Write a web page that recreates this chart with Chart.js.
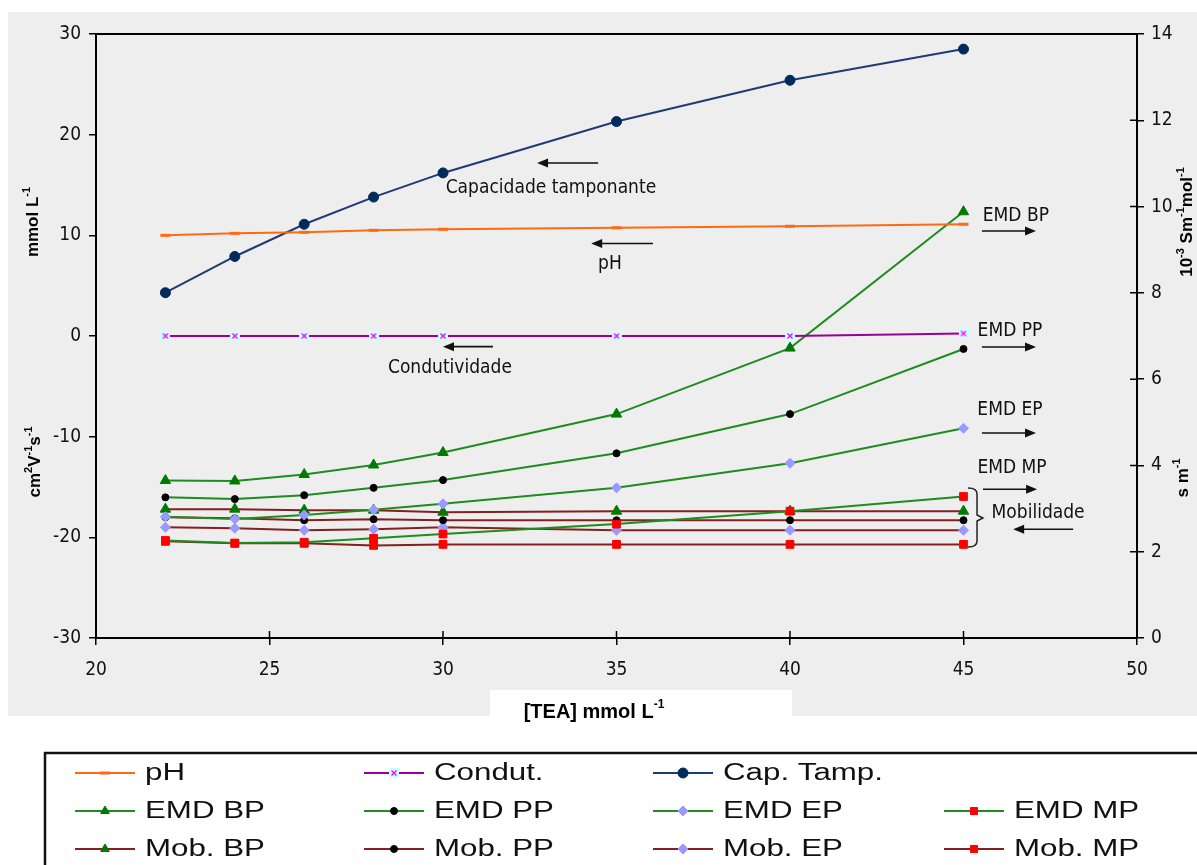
<!DOCTYPE html>
<html>
<head>
<meta charset="utf-8">
<script src="https://cdn.jsdelivr.net/npm/chart.js@4.4.0/dist/chart.umd.min.js"></script>
<style>
  body { margin: 0; background: #fff; }
  #wrap { width: 1197px; height: 865px; }
</style>
</head>
<body>
<div id="wrap"><canvas id="chart" width="1197" height="865"></canvas></div>
<script>
//------------------------------------------------------
// DATA
//------------------------------------------------------
const tea = [22, 24, 26, 28, 30, 35, 40, 45];

// left axis (mmol L-1 / cm2V-1s-1)
const pH      = [10.0, 10.2, 10.3, 10.5, 10.6, 10.75, 10.9, 11.1];
const condut  = [0, 0, 0, 0, 0, 0, 0, 0.25];
const capTamp = [4.3, 7.9, 11.1, 13.8, 16.2, 21.3, 25.4, 28.5];
const mobBP   = [-17.2, -17.2, -17.3, -17.3, -17.5, -17.4, -17.4, -17.4];
const mobPP   = [-18.0, -18.1, -18.3, -18.2, -18.3, -18.3, -18.3, -18.3];
const mobEP   = [-19.0, -19.1, -19.3, -19.2, -19.0, -19.3, -19.3, -19.3];
const mobMP   = [-20.4, -20.6, -20.6, -20.8, -20.7, -20.7, -20.7, -20.7];

// right axis (s m-1)
const emdBP = [3.65, 3.64, 3.79, 4.01, 4.30, 5.19, 6.72, 9.88];
const emdPP = [3.26, 3.22, 3.31, 3.48, 3.66, 4.28, 5.19, 6.70];
const emdEP = [2.81, 2.76, 2.85, 2.97, 3.11, 3.48, 4.05, 4.86];
const emdMP = [2.26, 2.20, 2.22, 2.31, 2.41, 2.64, 2.94, 3.28];

const xTicks = { min: 20, max: 50, step: 5 };
const yTicks = { min: -30, max: 30, step: 10 };
const y2Ticks = { min: 0, max: 14, step: 2 };

const NARROW = "'Liberation Sans Narrow', 'Arial Narrow', 'DejaVu Sans Condensed', sans-serif";
const SANS = "'Liberation Sans', Arial, sans-serif";

const GREEN = '#1E8C1E';
const MOB = '#842020';

// condutividade marker: magenta x on light cyan square
const condMark = document.createElement('canvas');
condMark.width = 10; condMark.height = 10;
(function () {
  const c = condMark.getContext('2d');
  c.fillStyle = '#CCFFFF'; c.fillRect(0, 0, 10, 10);
  c.strokeStyle = '#FF00FF'; c.lineWidth = 1.4;
  c.beginPath(); c.moveTo(2.5, 2.5); c.lineTo(7.5, 7.5); c.moveTo(7.5, 2.5); c.lineTo(2.5, 7.5); c.stroke();
})();

function makeSet(label, values, axis, line, style, mark, r, bw) {
  return {
    label: label,
    data: tea.map((x, i) => ({ x: x, y: values[i] })),
    yAxisID: axis,
    borderColor: line,
    borderWidth: 2,
    pointStyle: style,
    pointRadius: r,
    pointBackgroundColor: mark,
    pointBorderColor: mark,
    pointBorderWidth: bw || 1,
    fill: false,
    tension: 0
  };
}

const dsPH   = makeSet('pH', pH, 'y', '#FF6A10', 'line', '#FF6A10', 5, 3);
const dsCond = makeSet('Condut.', condut, 'y', '#990099', condMark, '#FF00FF', 5);
const dsCap  = makeSet('Cap. Tamp.', capTamp, 'y', '#1F3B73', 'circle', '#002A5C', 5);
const dsEBP  = makeSet('EMD BP', emdBP, 'y2', GREEN, 'triangle', '#007A00', 6);
const dsEPP  = makeSet('EMD PP', emdPP, 'y2', GREEN, 'circle', '#000000', 3.5);
const dsEEP  = makeSet('EMD EP', emdEP, 'y2', GREEN, 'rectRot', '#9999FF', 5);
const dsEMP  = makeSet('EMD MP', emdMP, 'y2', GREEN, 'rect', '#FF0000', 5.5);
const dsMBP  = makeSet('Mob. BP', mobBP, 'y', MOB, 'triangle', '#007A00', 6);
const dsMPP  = makeSet('Mob. PP', mobPP, 'y', MOB, 'circle', '#000000', 3.5);
const dsMEP  = makeSet('Mob. EP', mobEP, 'y', MOB, 'rectRot', '#9999FF', 5);
const dsMMP  = makeSet('Mob. MP', mobMP, 'y', MOB, 'rect', '#FF0000', 5.5);

const legendRows = [
  [dsPH, dsCond, dsCap, null],
  [dsEBP, dsEPP, dsEEP, dsEMP],
  [dsMBP, dsMPP, dsMEP, dsMMP]
];

// annotations in data units (x: TEA, y: left axis)
const notes = [
  { text: 'Capacidade tamponante', x: 33.11, y: 14.70, ax: [34.47, 32.71, 17.19] },
  { text: 'pH', x: 34.81, y: 7.15, ax: [36.05, 34.27, 9.19] },
  { text: 'Condutividade', x: 30.20, y: -3.18, ax: [31.44, 30.0, -1.06] },
  { text: 'EMD BP', x: 46.51, y: 11.92, ax: [45.53, 47.09, 10.43] },
  { text: 'EMD PP', x: 46.34, y: 0.50, ax: [45.53, 47.09, -1.09] },
  { text: 'EMD EP', x: 46.34, y: -7.35, ax: [45.53, 47.09, -9.64] },
  { text: 'EMD MP', x: 46.40, y: -13.11, ax: [45.56, 47.12, -15.23] },
  { text: 'Mobilidade', x: 47.15, y: -17.58, ax: [48.16, 46.43, -19.2] }
];
const brace = { x0: 45.13, x1: 45.39, tip: 45.56, top: -15.1, mid: -18.08, bot: -20.96 };

//------------------------------------------------------
// HELPERS
//------------------------------------------------------
function richText(ctx, parts, cx, cy, rot, size, family, bold) {
  ctx.save();
  ctx.translate(cx, cy);
  ctx.rotate(rot);
  const w8 = bold ? 'bold ' : '';
  const base = w8 + size + 'px ' + family;
  const sup = w8 + Math.round(size * 0.62) + 'px ' + family;
  let w = 0;
  parts.forEach(p => { ctx.font = p[1] ? sup : base; w += ctx.measureText(p[0]).width; });
  let x = -w / 2;
  ctx.textBaseline = 'middle';
  ctx.textAlign = 'left';
  ctx.fillStyle = '#000';
  parts.forEach(p => {
    ctx.font = p[1] ? sup : base;
    ctx.fillText(p[0], x, p[1] ? -size * 0.38 : 0);
    x += ctx.measureText(p[0]).width;
  });
  ctx.restore();
}

function arrow(ctx, x1, x2, y) {
  const dir = x2 > x1 ? 1 : -1;
  ctx.save();
  ctx.strokeStyle = '#111';
  ctx.fillStyle = '#111';
  ctx.lineWidth = 1.6;
  ctx.beginPath();
  ctx.moveTo(x1, y);
  ctx.lineTo(x2 - dir * 8, y);
  ctx.stroke();
  ctx.beginPath();
  ctx.moveTo(x2, y);
  ctx.lineTo(x2 - dir * 11, y - 4.5);
  ctx.lineTo(x2 - dir * 11, y + 4.5);
  ctx.closePath();
  ctx.fill();
  ctx.restore();
}

//------------------------------------------------------
// PLUGIN: background, frame, notes, titles, legend
//------------------------------------------------------
const decor = {
  id: 'decor',
  beforeDraw(chart) {
    const ctx = chart.ctx;
    ctx.save();
    ctx.fillStyle = '#fff';
    ctx.fillRect(0, 0, chart.width, chart.height);
    ctx.fillStyle = '#EEEEEE';
    ctx.fillRect(8, 12, chart.width - 8, 704);
    ctx.fillStyle = '#fff';
    ctx.fillRect(490, 690, 302, 30);
    ctx.restore();
  },
  afterDraw(chart) {
    const ctx = chart.ctx;
    const a = chart.chartArea;
    const sx = chart.scales.x, sy = chart.scales.y, sy2 = chart.scales.y2;
    ctx.save();

    // top frame line
    ctx.strokeStyle = '#000';
    ctx.lineWidth = 2;
    ctx.beginPath();
    ctx.moveTo(a.left, a.top);
    ctx.lineTo(a.right, a.top);
    ctx.stroke();

    // inner halves of crossing ticks
    ctx.lineWidth = 1.5;
    ctx.beginPath();
    sx.ticks.forEach(t => {
      const px = sx.getPixelForValue(t.value);
      ctx.moveTo(px, a.bottom); ctx.lineTo(px, a.bottom - 7);
    });
    sy2.ticks.forEach(t => {
      const py = sy2.getPixelForValue(t.value);
      ctx.moveTo(a.right, py); ctx.lineTo(a.right - 7, py);
    });
    ctx.stroke();

    // notes
    ctx.fillStyle = '#111';
    ctx.font = '19px ' + NARROW;
    ctx.textAlign = 'center';
    ctx.textBaseline = 'middle';
    notes.forEach(n => {
      ctx.fillText(n.text, sx.getPixelForValue(n.x), sy.getPixelForValue(n.y));
      arrow(ctx, sx.getPixelForValue(n.ax[0]), sx.getPixelForValue(n.ax[1]), sy.getPixelForValue(n.ax[2]));
    });

    // brace for mobility
    const bx0 = sx.getPixelForValue(brace.x0), bx1 = sx.getPixelForValue(brace.x1);
    const bt = sx.getPixelForValue(brace.tip);
    const by0 = sy.getPixelForValue(brace.top), bym = sy.getPixelForValue(brace.mid);
    const by1 = sy.getPixelForValue(brace.bot);
    ctx.strokeStyle = '#222';
    ctx.lineWidth = 1.5;
    ctx.beginPath();
    ctx.moveTo(bx0, by0);
    ctx.quadraticCurveTo(bx1, by0, bx1, by0 + 6);
    ctx.lineTo(bx1, bym - 3);
    ctx.lineTo(bt, bym);
    ctx.lineTo(bx1, bym + 3);
    ctx.lineTo(bx1, by1 - 6);
    ctx.quadraticCurveTo(bx1, by1, bx0, by1);
    ctx.stroke();

    // axis titles
    const up = -Math.PI / 2;
    richText(ctx, [['mmol L'], ['-1', 1]], 33, 222, up, 17, SANS, true);
    richText(ctx, [['cm'], ['2', 1], ['V'], ['-1', 1], ['s'], ['-1', 1]], 35, 462, up, 17, SANS, true);
    richText(ctx, [['10'], ['-3', 1], [' Sm'], ['-1', 1], ['mol'], ['-1', 1]], 1187, 222, up, 17, SANS, true);
    richText(ctx, [['s m'], ['-1', 1]], 1183, 478, up, 17, SANS, true);
    richText(ctx, [['[TEA] mmol L'], ['-1', 1]], 594, 712, 0, 20, SANS, true);

    // legend box
    ctx.fillStyle = '#fff';
    ctx.fillRect(45, 753, 1160, 130);
    ctx.strokeStyle = '#111';
    ctx.lineWidth = 2.5;
    ctx.strokeRect(45, 753, 1160, 130);

    const rowY = [773, 811, 849];
    const colX = [75, 364, 653, 944];
    legendRows.forEach((row, ri) => {
      row.forEach((ds, ci) => {
        if (!ds) return;
        const x0 = colX[ci], y = rowY[ri];
        ctx.strokeStyle = ds.borderColor;
        ctx.lineWidth = 2;
        ctx.beginPath();
        ctx.moveTo(x0, y); ctx.lineTo(x0 + 60, y);
        ctx.stroke();
        ctx.fillStyle = ds.pointBackgroundColor;
        ctx.strokeStyle = ds.pointBorderColor;
        ctx.lineWidth = ds.pointBorderWidth;
        Chart.helpers.drawPoint(ctx, {
          pointStyle: ds.pointStyle,
          radius: Math.min(ds.pointRadius, 5),
          borderWidth: ds.pointBorderWidth,
          rotation: 0
        }, x0 + 30, y);
        ctx.save();
        ctx.translate(x0 + 70, y);
        ctx.scale(1.36, 1);
        ctx.fillStyle = '#111';
        ctx.font = '23px ' + SANS;
        ctx.textAlign = 'left';
        ctx.textBaseline = 'middle';
        ctx.fillText(ds.label, 0, 1);
        ctx.restore();
      });
    });
    ctx.restore();
  }
};

//------------------------------------------------------
// CHART
//------------------------------------------------------
const tickFont = { family: NARROW, size: 19 };

const config = {
  type: 'line',
  data: {
    datasets: [dsPH, dsCond, dsCap, dsEBP, dsEPP, dsEEP, dsEMP, dsMBP, dsMPP, dsMEP, dsMMP]
  },
  options: {
    responsive: false,
    animation: false,
    layout: { padding: { top: 34, bottom: 177, left: 0, right: 0 } },
    plugins: {
      legend: { display: false },
      tooltip: { enabled: false }
    },
    scales: {
      x: {
        type: 'linear',
        min: xTicks.min, max: xTicks.max,
        ticks: { stepSize: xTicks.step, font: tickFont, color: '#111', padding: 14, maxRotation: 0 },
        grid: { drawOnChartArea: false, tickLength: 7, color: '#000', lineWidth: 1.5 },
        border: { color: '#000', width: 2 },
        afterFit(s) { s.height = 50; }
      },
      y: {
        position: 'left',
        min: yTicks.min, max: yTicks.max,
        ticks: { stepSize: yTicks.step, font: tickFont, color: '#111', padding: 8 },
        grid: { drawOnChartArea: false, tickLength: 7, color: '#000', lineWidth: 1.5 },
        border: { color: '#000', width: 2 },
        afterFit(s) { s.width = 96; }
      },
      y2: {
        position: 'right',
        min: y2Ticks.min, max: y2Ticks.max,
        ticks: { stepSize: y2Ticks.step, font: tickFont, color: '#111', padding: 7 },
        grid: { drawOnChartArea: false, tickLength: 7, color: '#000', lineWidth: 1.5 },
        border: { color: '#000', width: 2 },
        afterFit(s) { s.width = 60; }
      }
    }
  },
  plugins: [decor]
};

const ctx = document.getElementById('chart').getContext('2d');
const chart = new Chart(ctx, config);
</script>
</body>
</html>
